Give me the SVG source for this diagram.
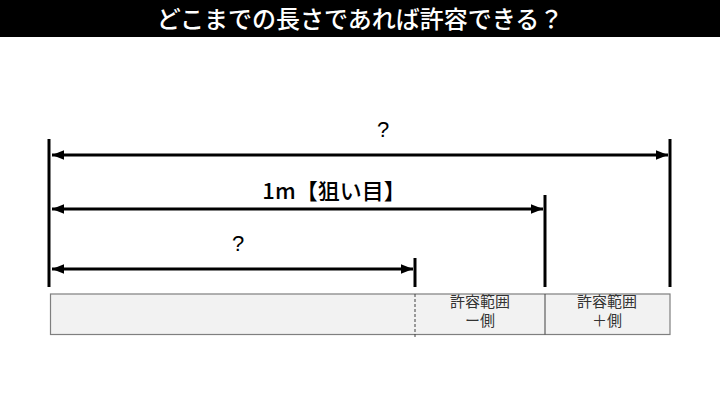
<svg xmlns="http://www.w3.org/2000/svg" width="720" height="406" viewBox="0 0 720 406">
<defs>
<style>
.t{font-family:"Liberation Sans","Noto Sans CJK JP",sans-serif;fill:#000}
.cjk{font-family:"Noto Sans CJK JP","Liberation Sans",sans-serif}
.sub{font-family:"Noto Sans CJK JP","Liberation Sans",sans-serif;font-size:15px;fill:#333;text-anchor:middle}
.bar{stroke:#000;stroke-width:3}
.dim{stroke:#000;stroke-width:3}
</style>
<marker id="ah" viewBox="0 0 10 10" refX="10" refY="5" markerWidth="4" markerHeight="4" orient="auto-start-reverse" markerUnits="strokeWidth">
<path d="M0,1 L10,5 L0,9 Z" fill="#000"/>
</marker>
</defs>
<rect width="720" height="406" fill="#fff"/>
<g id="title">
<rect x="0" y="0" width="720" height="37" fill="#000"/>
<text x="360" y="28" text-anchor="middle" class="cjk" font-size="24" font-weight="500" fill="#fff">どこまでの長さであれば許容できる？</text>
</g>
<g id="band">
<rect x="50.5" y="294" width="619.5" height="40.5" fill="#f2f2f2" stroke="#7f7f7f" stroke-width="1.2"/>
<line x1="545" y1="294" x2="545" y2="334.5" stroke="#404040" stroke-width="1"/>
<line x1="415" y1="294" x2="415" y2="338" stroke="#404040" stroke-width="1" stroke-dasharray="3,2"/>
</g>
<g id="minus">
<text x="480" y="307" class="sub">許容範囲</text>
<text x="480" y="326" class="sub">ー側</text>
</g>
<g id="plus">
<text x="607" y="307" class="sub">許容範囲</text>
<text x="607" y="326" class="sub">＋側</text>
</g>
<g id="ticks">
<line class="bar" x1="49" y1="139" x2="49" y2="287"/>
<line class="bar" x1="670" y1="139" x2="670" y2="287"/>
<line class="bar" x1="545" y1="195" x2="545" y2="287"/>
<line class="bar" x1="415" y1="258" x2="415" y2="287"/>
</g>
<g id="connectors">
<line class="dim" x1="52" y1="155" x2="668" y2="155" marker-start="url(#ah)" marker-end="url(#ah)"/>
<line class="dim" x1="52" y1="209" x2="543" y2="209" marker-start="url(#ah)" marker-end="url(#ah)"/>
<line class="dim" x1="52" y1="269" x2="413" y2="269" marker-start="url(#ah)" marker-end="url(#ah)"/>
</g>
<g id="labels">
<text x="383" y="137" text-anchor="middle" class="t" font-size="22">?</text>
<text x="334" y="199" text-anchor="middle" class="cjk" font-size="22" font-weight="500">1m【狙い目】</text>
<text x="238" y="251" text-anchor="middle" class="t" font-size="22">?</text>
</g>
</svg>
